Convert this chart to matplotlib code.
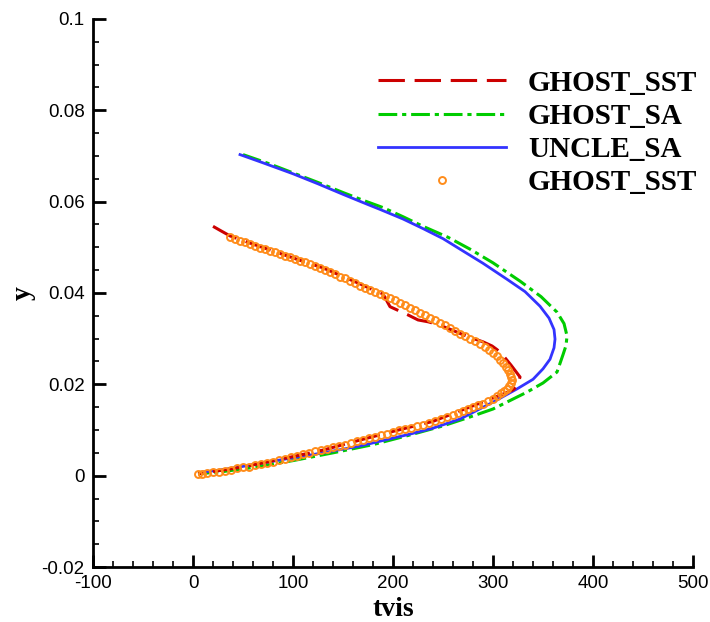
import matplotlib
matplotlib.use("Agg")
import matplotlib.pyplot as plt
from matplotlib.ticker import MultipleLocator, FuncFormatter

plt.rcParams["axes.unicode_minus"] = False
plt.rcParams["lines.scale_dashes"] = False

# UNCLE_SA (solid blue)
uncle_x = [47, 70, 100, 125, 150, 170, 187, 210, 230, 250, 267, 290, 314, 332, 347, 356, 361, 362,
           361, 357, 350, 340, 324, 300, 267, 240, 217, 190, 167, 130, 94, 60, 30, 10]
uncle_y = [.0703, .0685, .0661, .0639, .0616, .0598, .0583, .0562, .0541, .0519, .0496, .0465, .0430,
           .0403, .0371, .0345, .0320, .0299, .0280, .0255, .0234, .0211, .0190, .0161, .0124, .0104,
           .0091, .0077, .0065, .0050, .0037, .0024, .0013, .0008]

# GHOST_SA (green dash-dot)
sa_x = [50, 75, 100, 125, 150, 170, 190, 210, 230, 255, 277, 300, 327, 348, 364, 371, 374, 373,
        370, 364, 350, 334, 300, 275, 250, 215, 180, 140, 100, 60, 30, 5]
sa_y = [.0703, .0684, .0663, .0642, .0620, .0603, .0587, .0567, .0546, .0522, .0496, .0466, .0426,
        .0392, .0358, .0333, .0306, .0285, .0265, .0227, .0203, .0183, .0146, .0127, .0109, .0088,
        .0068, .0050, .0033, .0018, .0009, .0004]

# GHOST_SST (red dashed)
sst_x = [20, 28, 37, 60, 80, 105, 130, 150, 167, 180, 190, 197, 205, 215, 225, 235, 245, 260, 274,
         290, 299, 304, 309, 318, 327, 324, 320, 314, 300, 280, 267, 240, 200, 167, 130, 94, 50, 5]
sst_y = [.0546, .0536, .0525, .0507, .0492, .0473, .0455, .0436, .0420, .0407, .0398, .0370, .0362,
         .0352, .0341, .0337, .0331, .0318, .0305, .0293, .0284, .0276, .0266, .0242, .0216, .0196,
         .0188, .0182, .0170, .0153, .0142, .0119, .0097, .0078, .0056, .0039, .0019, .0004]

# GHOST_SST (orange circles)
exp_x = [37, 42, 47, 52, 57, 62, 67, 72, 77, 82, 87, 92, 97, 102, 107, 112, 117, 122, 127, 132,
         137, 142, 147, 152, 157, 162, 167, 172, 177, 182, 187, 192, 197, 202, 207, 212, 217, 222,
         227, 232, 237, 242, 247, 252, 257, 262, 267, 272, 277, 282, 287, 292, 296, 300, 304, 307,
         310, 313, 315, 317, 318, 319, 318, 316, 314,
         311, 308, 304, 300, 295, 290, 285, 280, 275, 270, 265, 260, 254, 248, 242, 236, 230, 224,
         218, 212, 206, 200, 194, 188, 182, 176, 170, 164, 158, 152, 146, 140, 134, 128, 122, 116,
         110, 104, 98, 92, 86, 80, 74, 68, 62, 56, 50, 44, 38, 32, 26, 20, 14, 9, 5]
exp_y = [.0522, .0518, .0514, .0511, .0507, .0503, .0499, .0496, .0492, .0489, .0485, .0481, .0478,
         .0474, .0471, .0467, .0463, .0459, .0455, .0450, .0445, .0441, .0436, .0432, .0427, .0421,
         .0415, .0411, .0407, .0403, .0398, .0394, .0389, .0384, .0378, .0373, .0368, .0363, .0357,
         .0351, .0346, .0341, .0335, .0329, .0323, .0317, .0311, .0305, .0299, .0294, .0288, .0281,
         .0275, .0268, .0261, .0254, .0246, .0238, .0231, .0223, .0216, .0209, .0202, .0196, .0190,
         .0185, .0180, .0174, .0168, .0163, .0158, .0154, .0150, .0146, .0141, .0137, .0133, .0129,
         .0124, .0120, .0116, .0112, .0108, .0105, .0102, .0099, .0095, .0092, .0088, .0085, .0082,
         .0078, .0075, .0072, .0068, .0065, .0062, .0059, .0056, .0053, .0050, .0047, .0044, .0040,
         .0037, .0034, .0031, .0028, .0025, .0023, .0020, .0018, .0016, .0013, .0011, .0009, .0007,
         .0005, .0004, .0003]

fig = plt.figure(figsize=(7.1, 6.22), dpi=100)
ax = fig.add_axes([0.131, 0.0884, 0.8451, 0.8811])

l_sa, = ax.plot(sa_x, sa_y, color="#00CC00", lw=2.2, dashes=(13.5, 3.5, 3, 3.5), label="GHOST_SA")
l_un, = ax.plot(uncle_x, uncle_y, color="#3333FF", lw=2.0, label="UNCLE_SA")
l_sst, = ax.plot(sst_x, sst_y, color="#CC0000", lw=2.2, dashes=(19, 7), label="GHOST_SST")
l_ex, = ax.plot(exp_x, exp_y, ls="none", marker="o", ms=5.0, mfc="none", mec="#FF8C1A", mew=1.4,
                label="GHOST_SST")

ax.set_xlim(-100, 500)
ax.set_ylim(-0.02, 0.1)
ax.xaxis.set_major_locator(MultipleLocator(100))
ax.xaxis.set_minor_locator(MultipleLocator(20))
ax.yaxis.set_major_locator(MultipleLocator(0.02))
ax.yaxis.set_minor_locator(MultipleLocator(0.005))
ax.yaxis.set_major_formatter(FuncFormatter(lambda v, p: "%g" % round(v, 4)))

for s in ["top", "right"]:
    ax.spines[s].set_visible(False)
for s in ["left", "bottom"]:
    ax.spines[s].set_linewidth(2.0)

ax.tick_params(which="major", direction="in", length=9, width=2, pad=6, labelsize=13.5)
ax.tick_params(which="minor", direction="in", length=4.5, width=1.2)
for lab in ax.get_xticklabels() + ax.get_yticklabels():
    lab.set_family("Liberation Sans")

ax.set_xlabel("tvis", family="Liberation Serif", weight="bold", fontsize=20, labelpad=3)
ax.set_ylabel("y", family="Liberation Serif", weight="bold", fontsize=20, labelpad=4)

fig.legend(handles=[l_sst, l_sa, l_un, l_ex], loc="upper left", bbox_to_anchor=(0.532, 0.888),
           frameon=False, handlelength=4.4, handletextpad=0.75, labelspacing=0.21, numpoints=1,
           borderpad=0, borderaxespad=0,
           prop={"family": "Liberation Serif", "weight": "bold", "size": 21})

fig.savefig("out.png", dpi=100)
